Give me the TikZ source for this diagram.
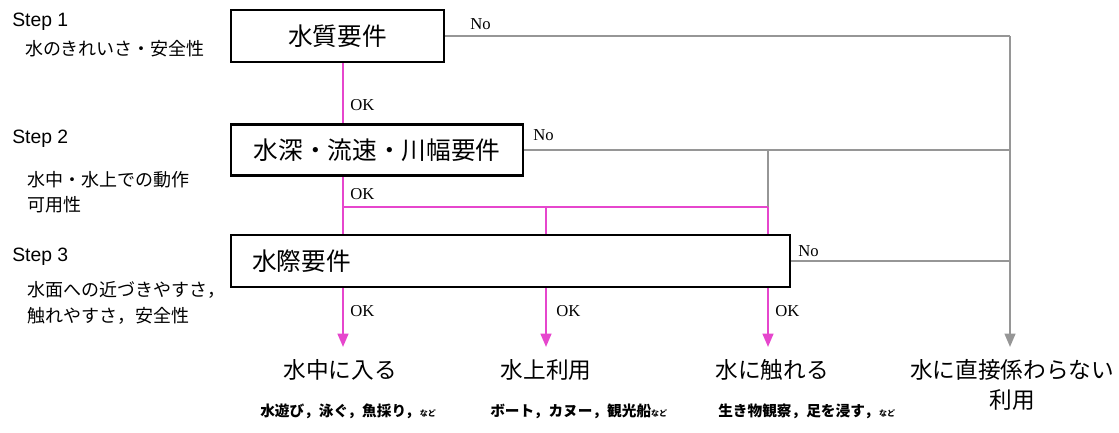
\documentclass[tikz,border=0pt]{standalone}
\usepackage{fontspec}
\setmainfont{Liberation Serif}
\newfontfamily\cjk{Noto Sans CJK JP}
\newfontfamily\arialf{Liberation Sans}
\usetikzlibrary{arrows.meta}
\definecolor{pinkc}{RGB}{230,70,205}
\definecolor{grayc}{RGB}{150,150,150}
\tikzset{
  x=0.75pt, y=-0.75pt,
  box/.style={draw=black, line width=1.9pt, fill=white, inner sep=0pt, font=\cjk\fontsize{18.5}{20}\selectfont},
  pk/.style={draw=pinkc, line width=1.7pt},
  pkarrow/.style={pk, -{Triangle[width=8pt,length=10pt]}},
  gr/.style={draw=grayc, line width=0.9pt},
  grthick/.style={draw=grayc, line width=1.5pt},
  grarrow/.style={grthick, -{Triangle[width=8pt,length=10pt]}},
  lab/.style={font=\fontsize{12.5}{14}\selectfont, inner sep=0pt},
  steplab/.style={font=\arialf\fontsize{14.5}{16}\selectfont, anchor=west, inner sep=0pt},
  sublab/.style={font=\cjk\fontsize{13.5}{15}\selectfont, anchor=west, inner sep=0pt},
  outlab/.style={font=\cjk\fontsize{17}{22.5}\selectfont, inner sep=0pt, align=center},
  smalllab/.style={font=\cjk\bfseries\fontsize{11}{13}\selectfont, anchor=west, inner sep=0pt},
}
\newcommand{\nadoj}{{\fontsize{6}{7}\selectfont など}}
\begin{document}
\begin{tikzpicture}
\useasboundingbox (0,0) rectangle (1119,432);

% left step labels
\node[steplab] (s1) at (12,22) {Step 1};
\node[sublab] (s1a) at (25,49) {水のきれいさ・安全性};
\node[steplab] (s2) at (12,139) {Step 2};
\node[sublab] (s2a) at (27,180) {水中・水上での動作};
\node[sublab] (s2b) at (27,205) {可用性};
\node[steplab] (s3) at (12,257) {Step 3};
\node[sublab] (s3a) at (27,290) {水面への近づきやすさ，};
\node[sublab] (s3b) at (27,316) {触れやすさ，安全性};

% boxes
\node[box, minimum width=159.75pt, minimum height=39pt] (b1) at (337.5,36) {水質要件};
\node[box, minimum width=219pt, minimum height=38.25pt] (b2) at (377,150) {水深・流速・川幅要件};
\node[box, minimum height=39pt, text width=387.75pt, inner xsep=15.75pt, align=left] (b3) at (510.5,261) {水際要件};

% key coordinates
\coordinate (xA) at (343,0);
\coordinate (jA) at (343,207);
\coordinate (jB) at (546,207);
\coordinate (jC) at (768,207);
\coordinate (c1) at (1010,36);
\coordinate (t1) at (343,347);
\coordinate (t2) at (546,347);
\coordinate (t3) at (768,347);
\coordinate (t4) at (1010,347);

% gray No connectors
\draw[grthick] (b1.east) -- (c1);
\draw[grarrow] (c1) -- (t4);
\draw[gr] (b2.east) -- (b2.east -| c1);
\draw[gr] (b2.east -| jC) -- (jC);
\draw[gr] (b3.east) -- (b3.east -| c1);

% pink OK connectors
\draw[pk] (b1.south -| xA) -- (b2.north -| xA);
\draw[pk] (b2.south -| xA) -- (b3.north -| xA);
\draw[pk] (jA) -- (jC);
\draw[pk] (jB) -- (b3.north -| jB);
\draw[pk] (jC) -- (b3.north -| jC);

% arrows from box 3
\draw[pkarrow] (b3.south -| t1) -- (t1);
\draw[pkarrow] (b3.south -| t2) -- (t2);
\draw[pkarrow] (b3.south -| t3) -- (t3);

% No / OK labels
\node[lab, anchor=west] (n1) at (470,24) {No};
\node[lab, anchor=west] (n2) at (533,135) {No};
\node[lab, anchor=west] (n3) at (798,251) {No};
\node[lab, anchor=west] (ok1) at (350,105) {OK};
\node[lab, anchor=west] (ok2) at (350,194) {OK};
\node[lab, anchor=west] (ok3) at (350,311) {OK};
\node[lab, anchor=west] (ok4) at (556,311) {OK};
\node[lab, anchor=west] (ok5) at (775,311) {OK};

% outcomes
\node[outlab] (o1) at (340,370) {水中に入る};
\node[outlab] (o2) at (546,370) {水上利用};
\node[outlab] (o3) at (772,370) {水に触れる};
\node[outlab] (o4) at (1012,385) {水に直接係わらない\\利用};

% examples
\node[smalllab] (e1) at (260,411) {水遊び，泳ぐ，魚採り，\nadoj};
\node[smalllab] (e2) at (490,411) {ボート，カヌー，観光船\nadoj};
\node[smalllab] (e3) at (718,411) {生き物観察，足を浸す，\nadoj};
\end{tikzpicture}
\end{document}
